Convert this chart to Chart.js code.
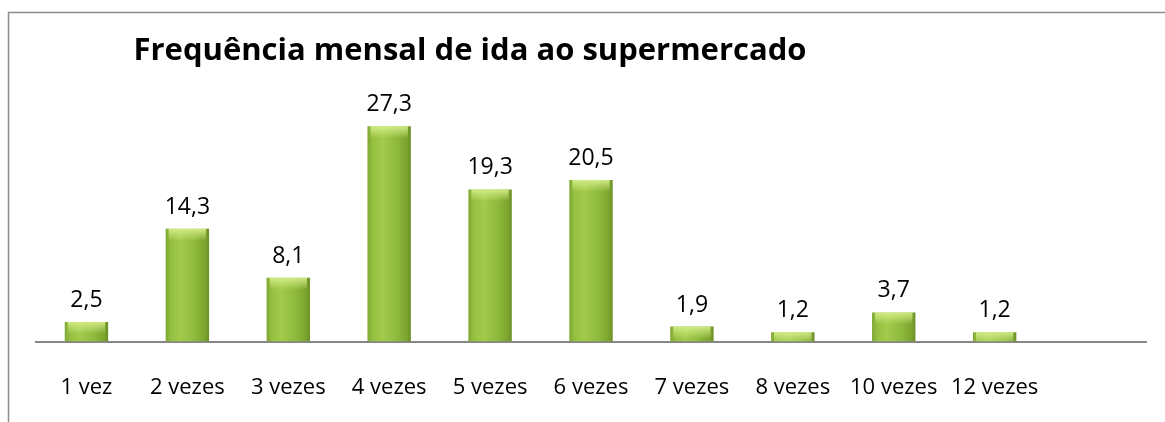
<!DOCTYPE html>
<html>
<head>
<meta charset="utf-8">
<script src="https://cdn.jsdelivr.net/npm/chart.js@4"></script>
<style>
  html, body { margin: 0; padding: 0; background: #fff; }
  #wrap { width: 1165px; height: 422px; }
</style>
</head>
<body>
<div id="wrap"><canvas id="freqChart" width="1165" height="422"></canvas></div>
<script>
const titulo = "Frequência mensal de ida ao supermercado";
const categorias = ["1 vez", "2 vezes", "3 vezes", "4 vezes", "5 vezes", "6 vezes",
  "7 vezes", "8 vezes", "10 vezes", "12 vezes", ""];
const valores = [2.5, 14.3, 8.1, 27.3, 19.3, 20.5, 1.9, 1.2, 3.7, 1.2, null];

const FONTE = '"Open Sans", "Liberation Sans", sans-serif';

// cor de cada barra: degradê horizontal (claro à esquerda, escuro na borda)
function corBarra(ctx) {
  const meta = ctx.chart.getDatasetMeta(0);
  const el = meta.data[ctx.dataIndex];
  if (!el || el.x === undefined || !el.width) return "#8fba3c";
  const g = ctx.chart.ctx.createLinearGradient(el.x - el.width / 2, 0, el.x + el.width / 2, 0);
  g.addColorStop(0, "#7fa832");
  g.addColorStop(0.12, "#95c040");
  g.addColorStop(0.35, "#a2cb4c");
  g.addColorStop(0.7, "#8db83a");
  g.addColorStop(0.92, "#7aa22e");
  g.addColorStop(1, "#6a8f26");
  return g;
}

// moldura, título e rótulos de valor
const extras = {
  id: "extras",
  beforeDraw(chart) {
    const c = chart.ctx;
    c.save();
    c.strokeStyle = "#8c8c8c";
    c.lineWidth = 1.5;
    c.beginPath();
    c.moveTo(8.5, 422);
    c.lineTo(8.5, 12.5);
    c.lineTo(1165, 12.5);
    c.stroke();
    c.restore();
  },
  afterDatasetsDraw(chart) {
    const c = chart.ctx;
    const meta = chart.getDatasetMeta(0);
    c.save();
    meta.data.forEach((bar, i) => {
      const v = valores[i];
      if (v === null) return;
      // brilho no topo da barra
      const topo = c.createLinearGradient(0, bar.y, 0, bar.y + 12);
      topo.addColorStop(0, "rgba(215,240,140,0.9)");
      topo.addColorStop(1, "rgba(215,240,140,0)");
      c.fillStyle = topo;
      const h = Math.min(12, bar.base - bar.y);
      c.fillRect(bar.x - bar.width / 2 + 3, bar.y, bar.width - 6, h);
      // valor
      c.fillStyle = "#000";
      c.font = "23px " + FONTE;
      c.textAlign = "center";
      c.textBaseline = "alphabetic";
      c.fillText(v.toFixed(1).replace(".", ","), bar.x, bar.y - 15);
    });
    c.font = "bold 31px " + FONTE;
    c.textAlign = "center";
    c.textBaseline = "alphabetic";
    c.fillStyle = "#000";
    c.fillText(titulo, 470, 60);
    c.restore();
  }
};

const grafico = new Chart(document.getElementById("freqChart"), {
  type: "bar",
  plugins: [extras],
  data: {
    labels: categorias,
    datasets: [{
      data: valores,
      backgroundColor: corBarra,
      borderWidth: 0,
      categoryPercentage: 1,
      barPercentage: 0.43
    }]
  },
  options: {
    responsive: false,
    animation: false,
    layout: { padding: { left: 36, right: 19, top: 105, bottom: -4 } },
    plugins: { legend: { display: false }, tooltip: { enabled: false } },
    scales: {
      x: {
        grid: { display: false },
        border: { color: "#868686", width: 2 },
        ticks: { color: "#000", font: { family: FONTE, size: 22 }, padding: 25, maxRotation: 0, autoSkip: false }
      },
      y: { display: false, min: 0, max: 30 }
    }
  }
});
grafico.update();
</script>
</body>
</html>
